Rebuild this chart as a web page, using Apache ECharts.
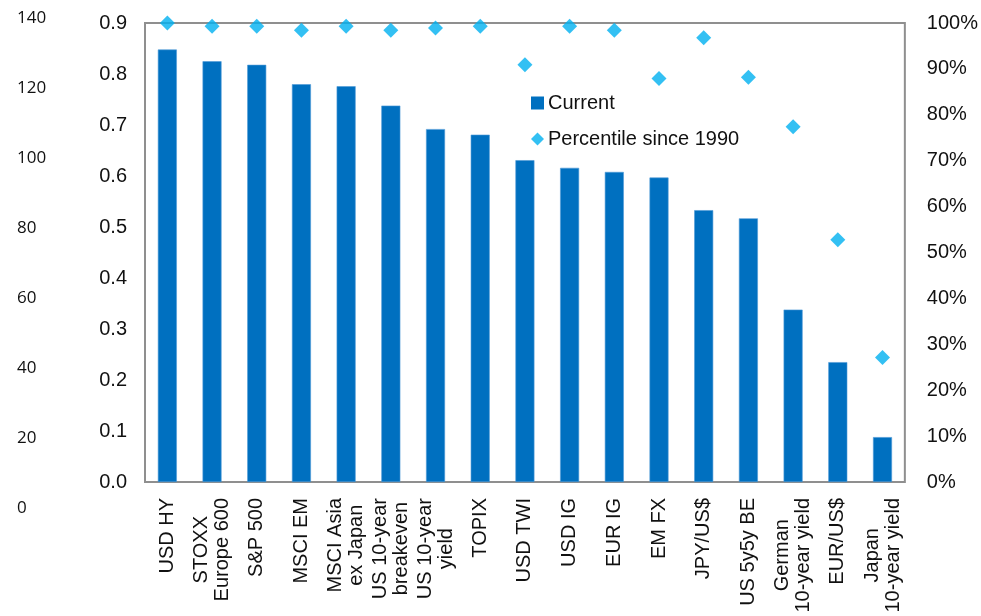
<!DOCTYPE html>
<html>
<head>
<meta charset="utf-8">
<script src="https://cdn.jsdelivr.net/npm/echarts@6/dist/echarts.min.js"></script>
<style>
  html, body { margin: 0; padding: 0; background: #fff; }
  #main { width: 981px; height: 616px; }
</style>
</head>
<body>
<div id="main"></div>
<script>
var categories = ['USD HY', 'STOXX\nEurope 600', 'S&P 500', 'MSCI EM', 'MSCI Asia\nex Japan',
    'US 10-year\nbreakeven', 'US 10-year\nyield', 'TOPIX', 'USD TWI', 'USD IG', 'EUR IG', 'EM FX',
    'JPY/US$', 'US 5y5y BE', 'German\n10-year yield', 'EUR/US$', 'Japan\n10-year yield'];
var currentValues = [0.848, 0.825, 0.818, 0.780, 0.776, 0.738, 0.692, 0.681, 0.631, 0.616,
    0.608, 0.597, 0.533, 0.517, 0.338, 0.235, 0.088];
var percentileValues = [100, 99.3, 99.3, 98.4, 99.3, 98.4, 98.9, 99.3, 90.9, 99.3,
    98.4, 87.9, 96.8, 88.2, 77.4, 52.8, 27.1];
// stray axis on the far left (0 .. 140)
var leftTicks = { min: 0, max: 140, step: 20 };
var mainTicks = { min: 0, max: 0.9, step: 0.1 };
var pctTicks = { min: 0, max: 100, step: 10 };

var barColor = '#0070C0';
var dotColor = '#00B0F0';
var txt = '#111111';
var font = '"Liberation Sans", Arial, sans-serif';

var chart = echarts.init(document.getElementById('main'));
var option = {
    animation: false
    , textStyle: { fontFamily: font }
    , legend: {
        orient: 'vertical'
        , left: 531
        , top: 93
        , padding: 0
        , itemWidth: 13
        , itemHeight: 13
        , itemGap: 16
        , itemStyle: { borderWidth: 0 }
        , textStyle: { fontSize: 20, color: txt, fontFamily: font, padding: [0, 0, 0, -1] }
        , data: [
            { name: 'Current', icon: 'rect' }
            , { name: 'Percentile since 1990', icon: 'diamond' }
        ]
    }
    , grid: [
        {
            left: 145, right: 76, top: 23, bottom: 134
            , show: true, borderColor: '#8f8f8f', borderWidth: 2
        }
        , { left: 17, width: 5, top: 18, bottom: 108 }
    ]
    , xAxis: [
        {
            type: 'category'
            , gridIndex: 0
            , data: categories
            , axisLine: { show: false }
            , axisTick: { show: false }
            , axisLabel: {
                rotate: 90
                , interval: 0
                , margin: 16
                , fontSize: 20
                , color: txt
                , lineHeight: 21
                , formatter: function (v) {
                    return v.split('\n').map(function (s) { return '{c|' + s + '}'; }).join('\n');
                }
                , rich: { c: { align: 'center', fontSize: 20, lineHeight: 21, color: txt, fontFamily: font } }
            }
        }
        , { type: 'value', gridIndex: 1, show: false }
    ]
    , yAxis: [
        {
            type: 'value'
            , gridIndex: 0
            , min: mainTicks.min, max: mainTicks.max, interval: mainTicks.step
            , axisLine: { show: false }
            , axisTick: { show: false }
            , splitLine: { show: false }
            , axisLabel: {
                margin: 18, fontSize: 20, color: txt
                , formatter: function (v) { return v.toFixed(1); }
            }
        }
        , {
            type: 'value'
            , gridIndex: 0
            , position: 'right'
            , min: pctTicks.min, max: pctTicks.max, interval: pctTicks.step
            , axisLine: { show: false }
            , axisTick: { show: false }
            , splitLine: { show: false }
            , axisLabel: { margin: 22, fontSize: 20, color: txt, formatter: '{value}%' }
        }
        , {
            type: 'value'
            , gridIndex: 1
            , position: 'left'
            , min: leftTicks.min, max: leftTicks.max, interval: leftTicks.step
            , axisLine: { show: false }
            , axisTick: { show: false }
            , splitLine: { show: false }
            , axisLabel: {
                margin: 0, align: 'left', fontSize: 17, color: txt
                , fontFamily: '"Open Sans", sans-serif'
            }
        }
    ]
    , series: [
        {
            name: 'Current'
            , type: 'bar'
            , xAxisIndex: 0
            , yAxisIndex: 0
            , barWidth: 19
            , itemStyle: { color: barColor, borderColor: '#4f9ad6', borderWidth: 0.6 }
            , data: currentValues
        }
        , {
            name: 'Percentile since 1990'
            , type: 'scatter'
            , xAxisIndex: 0
            , yAxisIndex: 1
            , symbol: 'diamond'
            , symbolSize: 15
            , itemStyle: { color: dotColor }
            , z: 5
            , data: percentileValues
        }
    ]
};
chart.setOption(option);
</script>
</body>
</html>
